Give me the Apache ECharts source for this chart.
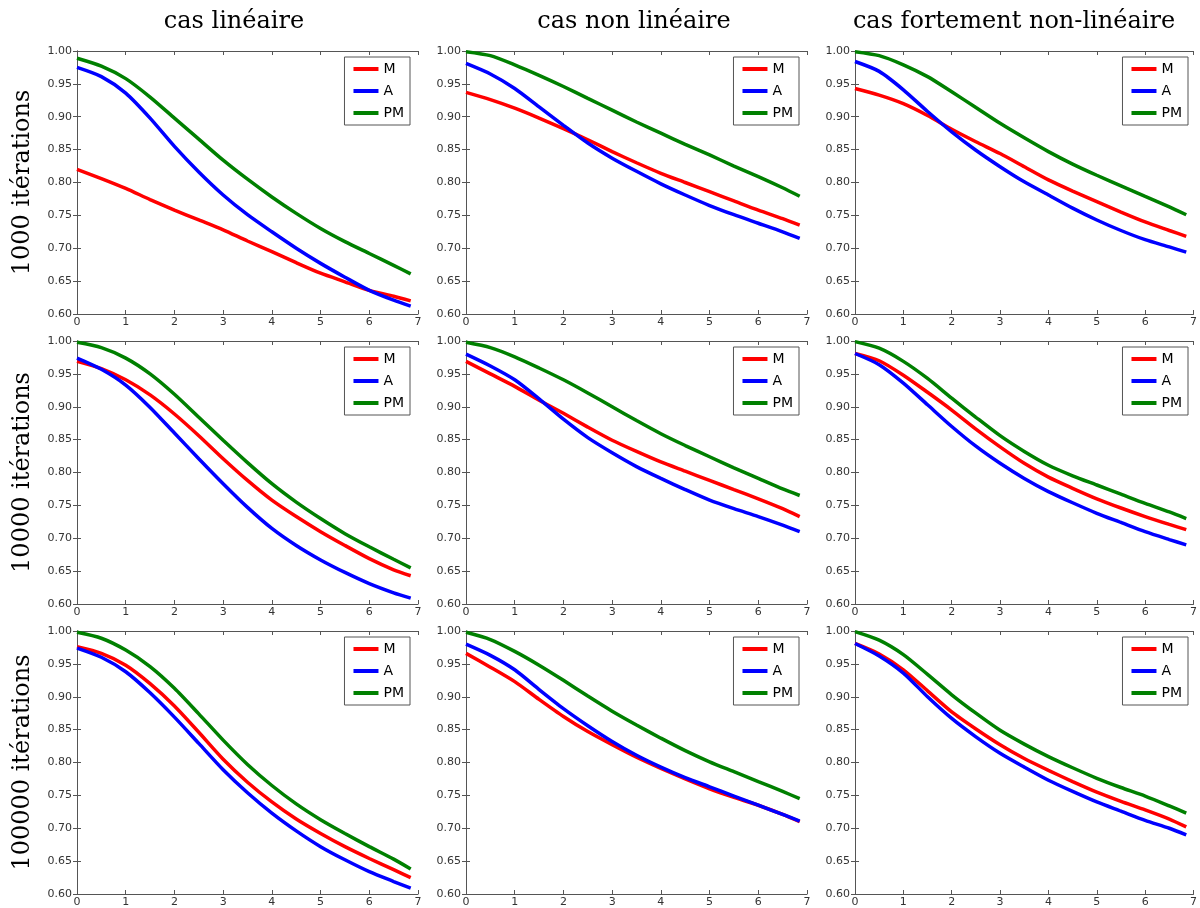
<!DOCTYPE html>
<html>
<head>
<meta charset="utf-8">
<script src="https://cdn.jsdelivr.net/npm/echarts@6/dist/echarts.min.js"></script>
<style>html,body{margin:0;padding:0;background:#fff;}#c{width:1200px;height:908px;}</style>
</head>
<body>
<div id="c"></div>
<script>
// shared x positions
const xs = [0, 0.5, 1, 1.5, 2, 2.5, 3, 3.5, 4, 4.5, 5, 5.5, 6, 6.5, 6.85];
const colTitles = ['cas linéaire', 'cas non linéaire', 'cas fortement non-linéaire'];
const rowLabels = ['1000 itérations', '10000 itérations', '100000 itérations'];
const seriesNames = ['M', 'A', 'PM'];

// row 1: 1000 iterations
const r1_lin_M  = [0.820, 0.806, 0.791, 0.774, 0.758, 0.743, 0.728, 0.711, 0.695, 0.678, 0.662, 0.649, 0.636, 0.627, 0.620];
const r1_lin_A  = [0.975, 0.961, 0.936, 0.898, 0.855, 0.816, 0.781, 0.751, 0.725, 0.700, 0.677, 0.656, 0.636, 0.621, 0.612];
const r1_lin_PM = [0.989, 0.977, 0.958, 0.930, 0.898, 0.866, 0.834, 0.805, 0.778, 0.753, 0.730, 0.710, 0.692, 0.674, 0.661];
const r1_nl_M   = [0.937, 0.926, 0.913, 0.898, 0.882, 0.865, 0.847, 0.830, 0.814, 0.800, 0.786, 0.772, 0.758, 0.745, 0.735];
const r1_nl_A   = [0.981, 0.965, 0.943, 0.915, 0.887, 0.860, 0.837, 0.817, 0.798, 0.781, 0.765, 0.751, 0.738, 0.725, 0.715];
const r1_nl_PM  = [0.999, 0.993, 0.979, 0.963, 0.946, 0.928, 0.910, 0.892, 0.875, 0.858, 0.842, 0.825, 0.809, 0.792, 0.779];
const r1_fnl_M  = [0.943, 0.933, 0.920, 0.902, 0.881, 0.862, 0.844, 0.824, 0.804, 0.787, 0.771, 0.755, 0.740, 0.727, 0.718];
const r1_fnl_A  = [0.984, 0.969, 0.941, 0.908, 0.877, 0.849, 0.824, 0.801, 0.781, 0.761, 0.743, 0.727, 0.713, 0.702, 0.694];
const r1_fnl_PM = [0.999, 0.993, 0.979, 0.961, 0.938, 0.914, 0.890, 0.868, 0.847, 0.828, 0.811, 0.795, 0.779, 0.763, 0.751];
// row 2: 10000 iterations
const r2_lin_M  = [0.969, 0.958, 0.941, 0.918, 0.889, 0.856, 0.821, 0.788, 0.758, 0.733, 0.710, 0.689, 0.669, 0.652, 0.643];
const r2_lin_A  = [0.974, 0.957, 0.933, 0.899, 0.860, 0.821, 0.783, 0.747, 0.715, 0.689, 0.667, 0.648, 0.631, 0.617, 0.609];
const r2_lin_PM = [0.998, 0.990, 0.974, 0.950, 0.919, 0.884, 0.849, 0.815, 0.783, 0.755, 0.730, 0.707, 0.687, 0.668, 0.655];
const r2_nl_M   = [0.969, 0.950, 0.931, 0.910, 0.890, 0.869, 0.849, 0.832, 0.816, 0.802, 0.788, 0.774, 0.760, 0.745, 0.733];
const r2_nl_A   = [0.980, 0.962, 0.941, 0.912, 0.881, 0.853, 0.830, 0.809, 0.791, 0.774, 0.758, 0.745, 0.733, 0.720, 0.710];
const r2_nl_PM  = [0.998, 0.990, 0.976, 0.959, 0.941, 0.921, 0.900, 0.879, 0.859, 0.841, 0.824, 0.807, 0.791, 0.775, 0.765];
const r2_fnl_M  = [0.981, 0.970, 0.948, 0.922, 0.895, 0.866, 0.839, 0.814, 0.793, 0.776, 0.760, 0.746, 0.733, 0.721, 0.713];
const r2_fnl_A  = [0.981, 0.964, 0.936, 0.903, 0.870, 0.840, 0.814, 0.791, 0.771, 0.754, 0.738, 0.724, 0.710, 0.698, 0.690];
const r2_fnl_PM = [0.999, 0.989, 0.969, 0.943, 0.913, 0.884, 0.856, 0.832, 0.811, 0.795, 0.781, 0.767, 0.753, 0.740, 0.730];
// row 3: 100000 iterations
const r3_lin_M  = [0.976, 0.966, 0.948, 0.920, 0.886, 0.846, 0.805, 0.770, 0.740, 0.714, 0.692, 0.672, 0.654, 0.637, 0.625];
const r3_lin_A  = [0.974, 0.960, 0.938, 0.906, 0.869, 0.829, 0.789, 0.754, 0.723, 0.696, 0.672, 0.652, 0.634, 0.619, 0.609];
const r3_lin_PM = [0.998, 0.989, 0.971, 0.946, 0.913, 0.874, 0.834, 0.797, 0.765, 0.737, 0.713, 0.692, 0.672, 0.653, 0.638];
const r3_nl_M   = [0.966, 0.945, 0.923, 0.896, 0.870, 0.847, 0.827, 0.808, 0.791, 0.775, 0.760, 0.747, 0.735, 0.721, 0.710];
const r3_nl_A   = [0.980, 0.963, 0.941, 0.911, 0.882, 0.856, 0.832, 0.811, 0.793, 0.777, 0.763, 0.749, 0.735, 0.721, 0.711];
const r3_nl_PM  = [0.998, 0.987, 0.969, 0.948, 0.925, 0.901, 0.878, 0.857, 0.837, 0.818, 0.801, 0.786, 0.771, 0.756, 0.745];
const r3_fnl_M  = [0.981, 0.965, 0.941, 0.909, 0.877, 0.851, 0.827, 0.806, 0.788, 0.771, 0.755, 0.741, 0.728, 0.714, 0.702];
const r3_fnl_A  = [0.981, 0.962, 0.936, 0.900, 0.867, 0.839, 0.814, 0.793, 0.773, 0.756, 0.740, 0.726, 0.712, 0.700, 0.690];
const r3_fnl_PM = [0.999, 0.986, 0.964, 0.934, 0.903, 0.875, 0.849, 0.828, 0.809, 0.792, 0.776, 0.762, 0.749, 0.734, 0.723];

const panels = [
  [[r1_lin_M, r1_lin_A, r1_lin_PM], [r1_nl_M, r1_nl_A, r1_nl_PM], [r1_fnl_M, r1_fnl_A, r1_fnl_PM]],
  [[r2_lin_M, r2_lin_A, r2_lin_PM], [r2_nl_M, r2_nl_A, r2_nl_PM], [r2_fnl_M, r2_fnl_A, r2_fnl_PM]],
  [[r3_lin_M, r3_lin_A, r3_lin_PM], [r3_nl_M, r3_nl_A, r3_nl_PM], [r3_fnl_M, r3_fnl_A, r3_fnl_PM]]
];
const colors = ['#ff0000', '#0000ff', '#008000'];

const W = 1200;
const gridLeft = [77, 466, 855];
const gridTop = [51, 341, 631];
const gridW = 341, gridH = 263;
const titleX = [234, 634, 1014];
const frameColor = '#555';
const tickFont = { fontFamily: 'DejaVu Sans', fontSize: 11, color: '#333' };

const grid = [], xAxis = [], yAxis = [], series = [], legend = [], graphic = [];
for (let r = 0; r < 3; r++) {
  for (let c = 0; c < 3; c++) {
    const g = r * 3 + c;
    grid.push({ left: gridLeft[c], top: gridTop[r], width: gridW, height: gridH, show: false });
    const axLine = { show: true, lineStyle: { color: frameColor, width: 1 } };
    const axTick = { show: true, inside: true, length: 4, lineStyle: { color: frameColor } };
    xAxis.push({ type: 'value', gridIndex: g, position: 'bottom', min: 0, max: 7, interval: 1,
      axisLine: axLine, axisTick: axTick, splitLine: { show: false },
      axisLabel: Object.assign({ margin: 3, showMinLabel: true, showMaxLabel: true }, tickFont) });
    xAxis.push({ type: 'value', gridIndex: g, position: 'top', min: 0, max: 7, interval: 1,
      axisLine: axLine, axisTick: axTick, splitLine: { show: false }, axisLabel: { show: false } });
    yAxis.push({ type: 'value', gridIndex: g, position: 'left', min: 0.6, max: 1.0, interval: 0.05,
      axisLine: axLine, axisTick: axTick, splitLine: { show: false },
      axisLabel: Object.assign({ margin: 5, formatter: v => v.toFixed(2), showMinLabel: true, showMaxLabel: true }, tickFont) });
    yAxis.push({ type: 'value', gridIndex: g, position: 'right', min: 0.6, max: 1.0, interval: 0.05,
      axisLine: axLine, axisTick: axTick, splitLine: { show: false }, axisLabel: { show: false } });
    for (let s = 0; s < 3; s++) {
      const vals = panels[r][c][s];
      series.push({
        type: 'line', name: seriesNames[s], xAxisIndex: 2 * g, yAxisIndex: 2 * g,
        data: xs.map((x, k) => [x, vals[k]]),
        showSymbol: false, symbol: 'none', smooth: 0.25,
        lineStyle: { color: colors[s], width: 3.5 }, itemStyle: { color: colors[s] },
        emphasis: { disabled: true }, animation: false, z: 3 + s
      });
    }
    legend.push({
      data: seriesNames.map(n => ({ name: n, icon: 'rect' })), orient: 'vertical', selectedMode: false,
      right: W - (gridLeft[c] + 333), top: gridTop[r] + 6,
      backgroundColor: '#fff', borderColor: frameColor, borderWidth: 1, borderRadius: 0,
      padding: [4, 6, 4, 9], itemGap: 6, itemWidth: 25, itemHeight: 4, itemTextGap: 12,
      textStyle: { fontFamily: 'DejaVu Sans', fontSize: 14, color: '#000', lineHeight: 16 }
    });
  }
}
for (let c = 0; c < 3; c++) {
  graphic.push({ type: 'text', x: titleX[c], y: 22,
    style: { text: colTitles[c], font: '24px "DejaVu Serif"', fill: '#000', textAlign: 'center', textVerticalAlign: 'middle' } });
}
for (let r = 0; r < 3; r++) {
  graphic.push({ type: 'text', x: 23, y: gridTop[r] + gridH / 2, rotation: Math.PI / 2,
    style: { text: rowLabels[r], font: '24px "DejaVu Serif"', fill: '#000', textAlign: 'center', textVerticalAlign: 'middle' } });
}

const chart = echarts.init(document.getElementById('c'), null, { renderer: 'canvas' });
chart.setOption({ backgroundColor: '#fff', animation: false, grid, xAxis, yAxis, series, legend, graphic });
</script>
</body>
</html>
